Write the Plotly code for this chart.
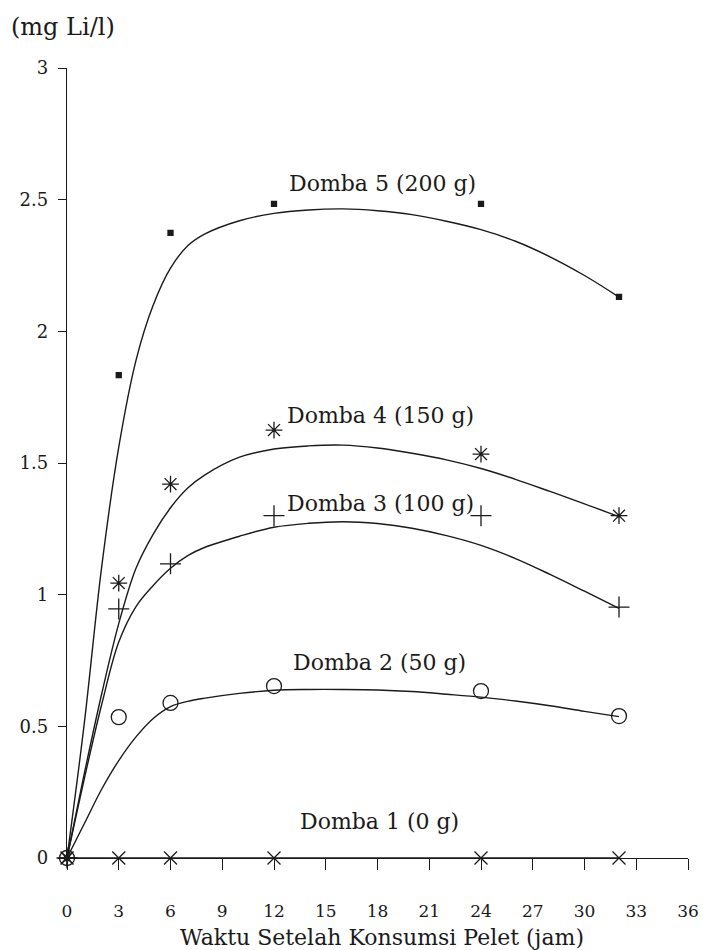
import plotly.graph_objects as go

# Observed sampling times (jam)
obs_x = [0, 3, 6, 12, 24, 32]

# Observed Li concentrations (mg Li/l)
d1_obs = [0, 0, 0, 0, 0, 0]
d2_obs = [0, 0.535, 0.589, 0.653, 0.634, 0.539]
d3_obs = [0, 0.946, 1.117, 1.30, 1.30, 0.953]
d4_obs = [0, 1.044, 1.42, 1.625, 1.534, 1.30]
d5_obs = [0, 1.834, 2.374, 2.484, 2.484, 2.131]

# Fitted curves
fit_x = [0, 1, 2, 3, 4, 5, 6, 7, 8, 10, 12, 14, 16, 18, 20, 22, 24, 26, 28, 30, 32]
d1_fit = [0] * len(fit_x)
d2_fit = [0, 0.13, 0.26, 0.37, 0.46, 0.53, 0.575, 0.595, 0.607, 0.625, 0.637, 0.64, 0.64,
          0.638, 0.632, 0.622, 0.611, 0.596, 0.578, 0.557, 0.537]
d3_fit = [0, 0.30, 0.58, 0.82, 0.955, 1.035, 1.10, 1.148, 1.18, 1.222, 1.256, 1.271, 1.277,
          1.27, 1.252, 1.224, 1.187, 1.137, 1.077, 1.013, 0.948]
d4_fit = [0, 0.32, 0.62, 0.89, 1.10, 1.23, 1.33, 1.405, 1.455, 1.522, 1.553, 1.565, 1.568,
          1.557, 1.537, 1.512, 1.479, 1.438, 1.392, 1.345, 1.296]
d5_fit = [0, 0.51, 1.10, 1.56, 1.89, 2.10, 2.24, 2.325, 2.37, 2.42, 2.448, 2.461, 2.465,
          2.458, 2.443, 2.418, 2.386, 2.342, 2.283, 2.212, 2.13]

labels = ["Domba 1 (0 g)", "Domba 2 (50 g)", "Domba 3 (100 g)", "Domba 4 (150 g)", "Domba 5 (200 g)"]
label_x = [13.4, 13.0, 12.65, 12.65, 12.75]
label_y = [0.137, 0.744, 1.348, 1.679, 2.563]

x_ticks = list(range(0, 37, 3))
y_ticks = [0, 0.5, 1, 1.5, 2, 2.5, 3]
y_ticklabels = ["0", "0.5", "1", "1.5", "2", "2.5", "3"]

x_title = "Waktu Setelah Konsumsi Pelet (jam)"
y_title = "(mg Li/l)"

INK = "#1a1a1a"
FONT = "DejaVu Serif"
fig = go.Figure()

fits = [d1_fit, d2_fit, d3_fit, d4_fit, d5_fit]
obs = [d1_obs, d2_obs, d3_obs, d4_obs, d5_obs]
symbols = ["x-thin-open", "circle-open", "cross-thin-open", "asterisk-open", "square"]
sizes = [13, 15, 15, 14, 5]

for f in fits:
    fig.add_trace(go.Scatter(x=fit_x, y=f, mode="lines",
                             line=dict(color=INK, width=1.4, shape="spline", smoothing=1.0),
                             hoverinfo="skip", showlegend=False, cliponaxis=False))

for o, s, sz in zip(obs, symbols, sizes):
    fig.add_trace(go.Scatter(x=obs_x, y=o, mode="markers",
                             marker=dict(symbol=s, size=sz, color=INK,
                                         line=dict(color=INK, width=1.3)),
                             showlegend=False, cliponaxis=False))

for t, lx, ly in zip(labels, label_x, label_y):
    fig.add_annotation(x=lx, y=ly, text=t, showarrow=False, xanchor="left", yanchor="middle",
                       font=dict(family=FONT, size=22, color=INK))

# plot area: 621 px wide (x 67..688), 790 px tall (y 68..858)
fig.add_annotation(xref="paper", yref="paper", x=-58 / 621, y=1 + 41 / 790,
                   xanchor="left", yanchor="middle", text=y_title, showarrow=False,
                   font=dict(family=FONT, size=24, color=INK))
fig.add_annotation(xref="paper", yref="paper", x=(382 - 67) / 621, y=-(937 - 858) / 790,
                   xanchor="center", yanchor="middle", text=x_title, showarrow=False,
                   font=dict(family=FONT, size=22, color=INK))

fig.update_layout(
    width=703, height=950,
    margin=dict(l=67, r=15, t=68, b=92),
    paper_bgcolor="white", plot_bgcolor="white",
)

fig.update_xaxes(range=[0, 36], tickvals=x_ticks, ticks="outside", ticklen=11, tickwidth=1.4,
                 tickcolor=INK, showline=True, linecolor=INK, linewidth=1.4, showgrid=False,
                 zeroline=False, ticklabelstandoff=26, automargin=False,
                 tickfont=dict(family=FONT, size=17, color=INK))
fig.update_yaxes(range=[0, 3], tickvals=y_ticks, ticktext=y_ticklabels, ticks="outside",
                 ticklen=8, tickwidth=1.4, tickcolor=INK, showline=True, linecolor=INK,
                 linewidth=1.4, showgrid=False, zeroline=False, ticklabelstandoff=6,
                 automargin=False, tickfont=dict(family=FONT, size=18, color=INK))

fig.write_html("out.html")
